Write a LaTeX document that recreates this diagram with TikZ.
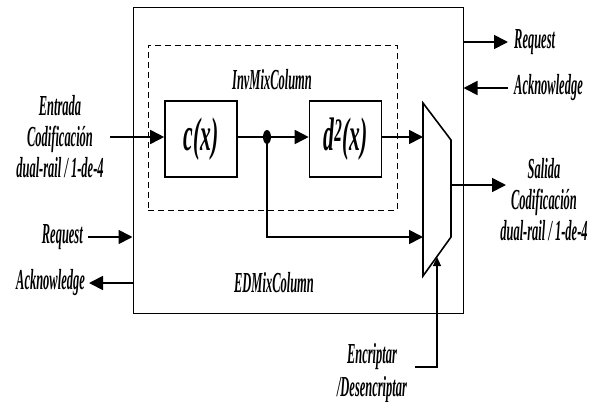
\documentclass[tikz,border=0pt]{standalone}
\usepackage{fontspec}
\usepackage{graphicx}
\setmainfont{Liberation Serif}
\usetikzlibrary{arrows.meta}

\newcommand{\nar}[1]{\scalebox{0.43}[1]{#1}}
\newcommand{\narblk}[1]{\scalebox{0.46}[1]{#1}}

\tikzset{
  sig/.style={line width=1.7pt,-{Triangle[length=14pt,width=14pt]}},
  selsig/.style={line width=1.1pt,-{Triangle[length=9pt,width=8pt]}},
  blk/.style={draw,line width=1.6pt,minimum width=72pt,minimum height=76pt,inner sep=0pt,
    font=\bfseries\itshape\fontsize{47}{47}\selectfont},
  lbl/.style={font=\bfseries\itshape\fontsize{29}{31}\selectfont,align=center,inner sep=1pt},
}

\begin{document}
\begin{tikzpicture}[x=1pt,y=-1pt]
  \useasboundingbox (0,0) rectangle (595,402);

  % enclosing blocks
  \node[draw,line width=1pt,minimum width=330pt,minimum height=306pt] (edm) at (298,160) {};
  \node[draw,line width=1pt,dash pattern=on 6pt off 4pt,minimum width=249pt,minimum height=165pt] (inv) at (272.5,127.5) {};
  \node[lbl] (invlbl) at (272,80) {\nar{InvMixColumn}};
  \node[lbl] (edmlbl) at (274,283) {\nar{EDMixColumn}};

  % function blocks
  \node[blk] (cx) at (201,139) {\narblk{c(x)}};
  \node[blk] (dx) at (345.5,139) {\narblk{d\textsuperscript{2}(x)}};

  % multiplexer
  \coordinate (m1) at (423,137);
  \coordinate (m2) at (423,237);
  \coordinate (mo) at (451,185);
  \coordinate (sel) at (437,257);
  \draw[line width=1.6pt] (423,103) -- (451,140) -- (451,237) -- (423,276) -- cycle;

  % labels
  \node[lbl] (ent) at (60,137) {\nar{Entrada}\\\nar{Codificación}\\\nar{dual-rail / 1-de-4}};
  \node[lbl] (sal) at (544,200) {\nar{Salida}\\\nar{Codificación}\\\nar{dual-rail / 1-de-4}};
  \node[lbl,anchor=west] (rqr) at (513,42) {\nar{Request}};
  \node[lbl,anchor=west] (ackr) at (513,88) {\nar{Acknowledge}};
  \node[lbl,anchor=east] (rql) at (84,237) {\nar{Request}};
  \node[lbl,anchor=east] (ackl) at (86,283) {\nar{Acknowledge}};
  \node[lbl,font=\bfseries\itshape\fontsize{29}{33}\selectfont] (enc) at (372,373) {\nar{Encriptar}\\\nar{/Desencriptar}};

  % free ends
  \coordinate (ein) at (110,137);
  \coordinate (sout) at (506,185);
  \coordinate (rqo) at (508,42);
  \coordinate (acki) at (508,88);
  \coordinate (rqi) at (88,237);
  \coordinate (acko) at (89,283);
  \coordinate (encs) at (415,367);

  % data path
  \draw[sig] (ein) -- (cx.west |- ein);
  \draw[sig] (cx.east |- ein) -- (dx.west |- ein);
  \draw[sig] (dx.east |- m1) -- (m1);
  \fill (267,137) coordinate (jn) ellipse (4pt and 7pt);
  \draw[sig] (jn) |- (m2);
  \draw[sig] (mo) -- (sout);
  \draw[selsig] (encs) -| (sel);

  % handshake
  \draw[sig] (edm.east |- rqo) -- (rqo);
  \draw[sig] (acki) -- (edm.east |- acki);
  \draw[sig] (rqi) -- (edm.west |- rqi);
  \draw[sig] (edm.west |- acko) -- (acko);
\end{tikzpicture}
\end{document}
